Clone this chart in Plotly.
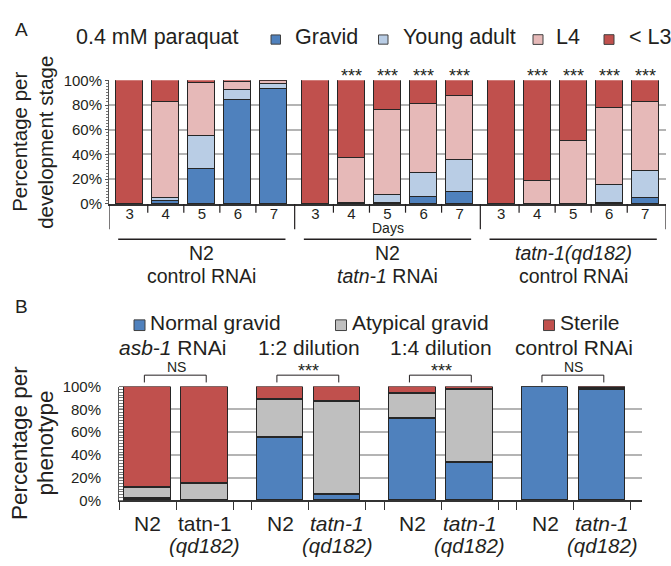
import plotly.graph_objects as go

W, H = 671, 566

# ---------------- Panel A data ----------------
days = ["3", "4", "5", "6", "7"]
groups_a_line1 = ["N2", "N2", "<i>tatn-1(qd182)</i>"]
groups_a_line2 = ["control RNAi", "<i>tatn-1</i> RNAi", "control RNAi"]
gravid = [0, 2, 28, 83.5, 93, 0, 0, 0.7, 5.8, 9.7, 0, 0, 0, 0.5, 4.7]
young_adult = [0, 2.5, 27, 8.5, 4, 0, 0.5, 6.3, 19.4, 25.5, 0, 0, 0, 14.7, 21.5]
l4 = [0, 77.5, 42.5, 6.5, 2.5, 0, 36.5, 69, 55.4, 51.9, 0, 18.4, 50.4, 62, 56.2]
lt_l3 = [100, 18, 2.5, 1.5, 0.5, 100, 63, 24, 19.4, 12.9, 100, 81.6, 49.6, 22.8, 17.6]
sig_a = ["", "", "", "", "", "", "***", "***", "***", "***", "", "***", "***", "***", "***"]
pct_ticks = [0, 20, 40, 60, 80, 100]
pct_labels = ["0%", "20%", "40%", "60%", "80%", "100%"]

# ---------------- Panel B data ----------------
pairs_b = ["<i>asb-1</i> RNAi", "1:2 dilution", "1:4 dilution", "control RNAi"]
strain_line1 = ["N2", "tatn-1", "N2", "<i>tatn-1</i>", "N2", "<i>tatn-1</i>", "N2", "<i>tatn-1</i>"]
strain_line2 = ["", "<i>(qd182)</i>", "", "<i>(qd182)</i>", "", "<i>(qd182)</i>", "", "<i>(qd182)</i>"]
normal_gravid = [1.5, 0, 55, 5, 71.5, 33, 100, 97.5]
atypical_gravid = [10, 14.6, 34, 82, 22, 64, 0, 1.5]
sterile = [88.5, 85.4, 11, 13, 6.5, 3, 0, 1]
sig_b = ["NS", "***", "***", "NS"]

# colours
C_GRAVID = "#4F81BD"
C_YA = "#B9CDE5"
C_L4 = "#E6B9B8"
C_L3 = "#C0504D"
C_ATYP = "#BFBFBF"
EDGE = "#262626"
TXT = "#231f20"
GRID = "#b4b4b4"
FONT = "Liberation Sans, Arial, sans-serif"

def px(x):
    return x / W

def py(y):
    return 1 - y / H

GSTEP = 5.15
xa = [g * GSTEP + d for g in range(3) for d in range(5)]
PSTEP = 2.325
xb = [p * PSTEP + m for p in range(4) for m in range(2)]

fig = go.Figure()
for name, vals, col in [("Gravid", gravid, C_GRAVID), ("Young adult", young_adult, C_YA),
                        ("L4", l4, C_L4), ("< L3", lt_l3, C_L3)]:
    fig.add_trace(go.Bar(x=xa, y=vals, name=name, marker=dict(color=col, line=dict(color=EDGE, width=1.2)),
                         width=0.75, xaxis="x", yaxis="y", showlegend=False))
for name, vals, col in [("Normal gravid", normal_gravid, C_GRAVID), ("Atypical gravid", atypical_gravid, C_ATYP),
                        ("Sterile", sterile, C_L3)]:
    fig.add_trace(go.Bar(x=xb, y=vals, name=name, marker=dict(color=col, line=dict(color=EDGE, width=1.2)),
                         width=0.82, xaxis="x2", yaxis="y2", showlegend=False))

shapes = []
ann = []

def text(x, y, s, size, xanchor="center", yanchor="middle", xref="paper", angle=0):
    ann.append(dict(x=x, y=y, xref=xref, yref="paper", text=s, showarrow=False, xanchor=xanchor,
                    yanchor=yanchor, textangle=angle, font=dict(size=size, color=TXT, family=FONT)))

def line(x0, y0, x1, y1, xref="paper", w=1.2, col=TXT):
    shapes.append(dict(type="line", xref=xref, yref="paper", x0=x0, y0=y0, x1=x1, y1=y1,
                       line=dict(color=col, width=w)))

def square(x0, x1, yc, col):
    s = (x1 - x0) / 2
    shapes.append(dict(type="rect", xref="paper", yref="paper", x0=px(x0), x1=px(x1), y0=py(yc + s), y1=py(yc - s),
                       fillcolor=col, line=dict(color="#404040", width=1)))

# ---- Panel A decorations ----
text(px(13), py(21.5), "A", 19, xanchor="left")
text(px(74), py(29), "0.4 mM paraquat", 21.5, xanchor="left")
for (x0, x1, tx, lab, col) in [(271, 280.5, 293, "Gravid", C_GRAVID), (378.5, 388, 401, "Young adult", C_YA),
                               (533, 543, 554, "L4", C_L4), (604, 614, 627, "< L3", C_L3)]:
    square(x0, x1, 31.5, col)
    text(px(tx), py(29), lab, 21.5, xanchor="left")

text(px(19.5), py(137.5), "Percentage per", 20.5, angle=-90)
text(px(45.5), py(137.5), "development stage", 20.5, angle=-90)

for i, s in enumerate(sig_a):
    if s:
        text(xa[i], py(69), s, 18, xref="x")

AX_A = 201
for g in range(3):
    for d in range(4):
        xt = g * GSTEP + d + 0.5
        line(xt, py(AX_A), xt, py(210), xref="x")
for xt in [-0.575, 4.575, 4.575 + GSTEP, 4.575 + 2 * GSTEP]:
    line(xt, py(AX_A), xt, py(227), xref="x")
for g in range(3):
    gc = g * GSTEP + 2
    line(gc - 2.32, py(237.5), gc + 2.32, py(237.5), xref="x", w=1.5)
    text(gc, py(252), groups_a_line1[g], 19.5, xref="x")
    text(gc, py(275.5), groups_a_line2[g], 19.5, xref="x")
text(GSTEP + 2, py(226), "Days", 14, xref="x")

# ---- Panel B decorations ----
text(px(13), py(306.5), "B", 19, xanchor="left")
for (x0, x1, tx, lab, col) in [(134, 145, 148, "Normal gravid", C_GRAVID), (335.5, 346.5, 349.5, "Atypical gravid", C_ATYP),
                               (543.5, 554.5, 557.5, "Sterile", C_L3)]:
    square(x0, x1, 326, col)
    text(px(tx), py(323.5), lab, 21, xanchor="left")

text(px(19.5), py(448), "Percentage per", 22.5, angle=-90)
text(px(46), py(448), "phenotype", 22.5, angle=-90)

for p in range(4):
    pc = p * PSTEP + 0.5
    text(pc - (0.06 if p == 0 else 0), py(349), pairs_b[p], 21, xref="x2")
    if sig_b[p] == "NS":
        text(pc, py(369), sig_b[p], 14, xref="x2")
    else:
        text(pc, py(373), sig_b[p], 18, xref="x2")
    xl, xr = p * PSTEP - 0.055, p * PSTEP + 1.03
    line(xl, py(385), xl, py(377.5), xref="x2", w=1)
    line(xl, py(377.5), xr, py(377.5), xref="x2", w=1)
    line(xr, py(377.5), xr, py(385), xref="x2", w=1)

for i in range(8):
    text(xb[i], py(530.5), strain_line1[i], 21, xref="x2")
    if strain_line2[i]:
        text(xb[i], py(553.5), strain_line2[i], 20.5, xref="x2")

b_ticks = []
for p in range(4):
    b_ticks += [p * PSTEP - 0.5, p * PSTEP + 0.5, p * PSTEP + 1.5]

fig.update_layout(
    width=W, height=H, margin=dict(l=0, r=0, t=0, b=0),
    paper_bgcolor="white", plot_bgcolor="white",
    barmode="stack", bargap=0,
    font=dict(family=FONT, color=TXT),
    shapes=shapes, annotations=ann,
    xaxis=dict(domain=[px(109), px(666)], range=[-0.575, 14.875], anchor="y",
               tickvals=xa, ticktext=days * 3, ticks="", showline=True, linecolor="#333333", linewidth=1.5,
               ticklabelstandoff=-5,
               tickfont=dict(size=15, color=TXT), showgrid=False, zeroline=False, fixedrange=True),
    yaxis=dict(domain=[py(201), py(73.5)], range=[0, 100], anchor="x",
               tickvals=pct_ticks, ticktext=pct_labels, ticks="outside", ticklen=3, tickcolor="#555555",
               minor=dict(ticks="outside", ticklen=2, dtick=2.5, tickcolor="#777777", showgrid=False),
               showline=True, linecolor="#555555", linewidth=1,
               showgrid=True, gridcolor=GRID, gridwidth=1.5, zeroline=False,
               tickfont=dict(size=15, color=TXT)),
    xaxis2=dict(domain=[px(119), px(642)], range=[-0.5, 8.675], anchor="y2",
                tickvals=b_ticks, showticklabels=False, ticks="outside", ticklen=8, tickcolor="#333333",
                showline=True, linecolor="#333333", linewidth=1.5, showgrid=False, zeroline=False),
    yaxis2=dict(domain=[py(506.7), py(389.3)], range=[0, 100], anchor="x2",
                tickvals=pct_ticks, ticktext=pct_labels, ticks="",
                minor=dict(ticks="inside", ticklen=4, dtick=2.5, tickcolor="#777777", showgrid=False),
                showline=True, linecolor="#555555", linewidth=1, ticklabelstandoff=14,
                showgrid=True, gridcolor=GRID, gridwidth=1.5, zeroline=False,
                tickfont=dict(size=15, color=TXT)),
)

fig.write_html("out.html", config={"displayModeBar": False},
               post_script="document.body.style.margin='0px';document.body.style.padding='0px';")
